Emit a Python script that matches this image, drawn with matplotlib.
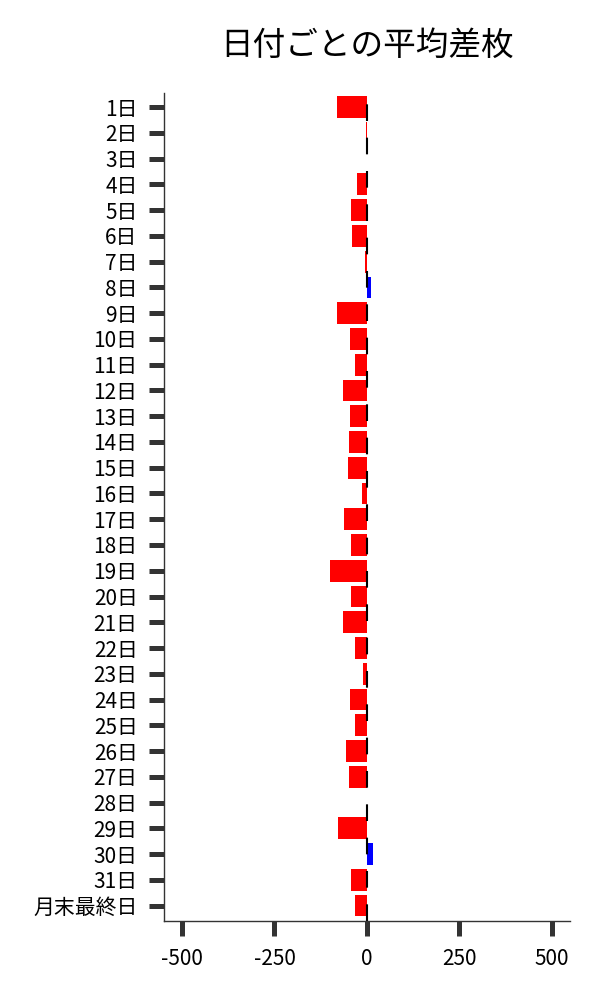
import matplotlib
matplotlib.use("Agg")
import matplotlib.pyplot as plt

plt.rcParams["font.family"] = ["Noto Sans CJK JP", "DejaVu Sans"]
plt.rcParams["axes.unicode_minus"] = False

days = [f"{d}日" for d in range(1, 32)] + ["月末最終日"]
avg_diff = [
    -81, -2, 0, -27, -43, -41, -5, 11, -81, -45,
    -32, -65, -45, -48, -51, -13, -61, -42, -99, -42,
    -64, -32, -10, -45, -32, -56, -48, 0, -78, 17,
    -42, -32,
]
x_ticks = [-500, -250, 0, 250, 500]

colors = ["blue" if v > 0 else "red" for v in avg_diff]

fig = plt.figure(figsize=(6, 10), dpi=100)
ax = fig.add_axes([0.274, 0.079, 0.676, 0.8285])

ax.barh(range(len(days)), avg_diff, height=0.85, color=colors)
ax.axvline(0, color="black", linewidth=1.5, linestyle=(0, (8, 8)))

ax.set_yticks(range(len(days)))
ax.set_yticklabels(days)
ax.set_xticks(x_ticks)
ax.set_xticklabels([str(t) for t in x_ticks])
ax.set_xlim(-548, 550)
ax.set_ylim(31.6, -0.57)

ax.tick_params(axis="both", length=10.8, width=3.6, color="#333333",
               labelsize=15, pad=8.5)
for side in ["top", "right"]:
    ax.spines[side].set_visible(False)
for side in ["left", "bottom"]:
    ax.spines[side].set_color("#333333")
    ax.spines[side].set_linewidth(1.0)

ax.set_title("日付ごとの平均差枚", fontsize=23.5, pad=27)

fig.savefig("out.png", dpi=100)
